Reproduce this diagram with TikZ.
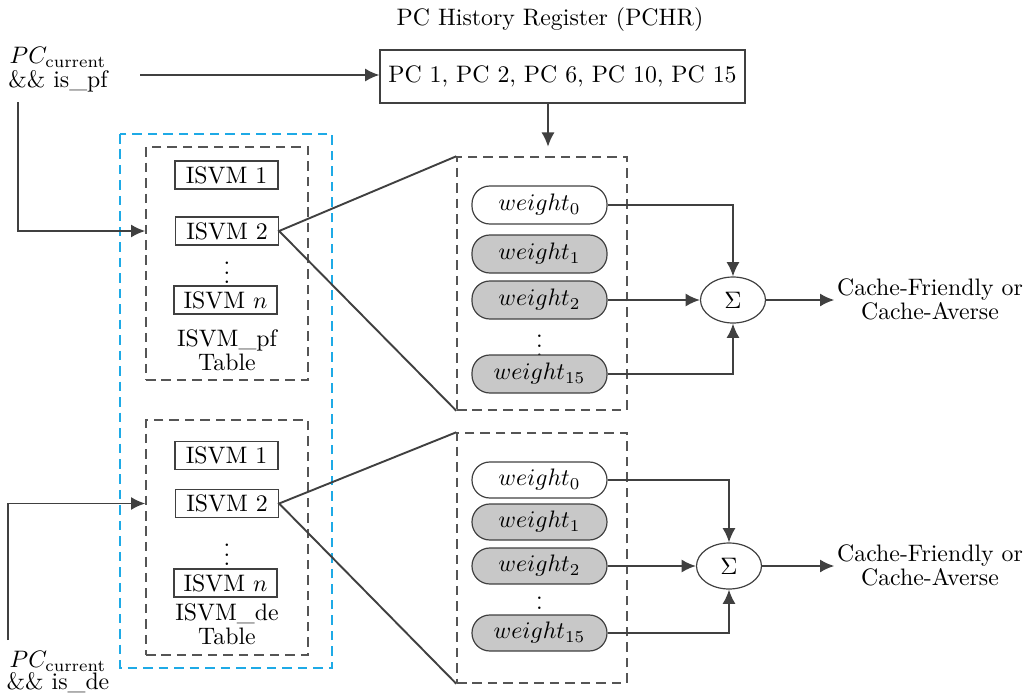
\documentclass[tikz,border=0pt]{standalone}
\usepackage{amsmath}
\usetikzlibrary{arrows.meta,shapes.geometric}
\definecolor{ln}{HTML}{404040}
\definecolor{bx}{HTML}{555555}
\definecolor{cy}{HTML}{1EAAE6}
\definecolor{pill}{HTML}{C8C8C8}
\def\u{0.42pt}
\tikzset{
  arr/.style={draw=ln, line width=0.8pt, -{Latex[length=6pt,width=5.5pt]}},
  conn/.style={draw=ln, line width=0.8pt},
  isvm/.style={draw=ln, line width=0.5pt, minimum width=103*\u, minimum height=28*\u, inner sep=1pt},
  wpill/.style={draw=ln, line width=0.5pt, rounded corners=7.5pt, minimum width=135*\u, minimum height=38*\u, inner sep=1pt},
  wpillb/.style={wpill, minimum height=36*\u},
  gpill/.style={fill=pill},
  dbox/.style={draw=bx, line width=0.6pt, dash pattern=on 4pt off 2.5pt},
  sig/.style={draw=ln, line width=0.5pt, ellipse, minimum width=65*\u, minimum height=46*\u, inner sep=0pt},
  lbl/.style={align=center, inner sep=1pt},
  dots/.style={inner sep=0pt},
}
\begin{document}
\begin{tikzpicture}[x=0.42pt,y=-0.42pt]
\useasboundingbox (0,0) rectangle (1027,695);

% title and PCHR
\node[lbl] (title) at (550,20) {PC History Register (PCHR)};
\node[draw=ln, line width=0.5pt, minimum width=365*\u, minimum height=53*\u, inner sep=1pt] (pchr) at (562.5,76.5) {PC 1, PC 2, PC 6, PC 10, PC 15};

% inputs
\node[lbl] (in1) at (58,70) {$PC_{\mathrm{current}}$\\[-2pt]\&\& is\_pf};
\node[lbl] (in2) at (58,672) {$PC_{\mathrm{current}}$\\[-3pt]\&\& is\_de};
\coordinate (in1s) at (140,75);
\coordinate (in1d) at (18,102);
\coordinate (in2u) at (8,640);

% blue box
\draw[draw=cy, line width=0.7pt, dash pattern=on 4pt off 2.5pt] (120,134) rectangle (332,668);

% tables
\node[dbox, minimum width=162*\u, minimum height=233*\u] (tab1) at (227,263.5) {};
\node[dbox, minimum width=162*\u, minimum height=235*\u] (tab2) at (227,537.5) {};

\node[isvm] (i11) at (226.5,175) {ISVM 1};
\node[isvm] (i12) at (227,231) {ISVM 2};
\node[dots] (d1) at (227,266) {$\vdots$};
\node[isvm] (i1n) at (225.5,300) {ISVM $n$};
\node[lbl] (t1) at (227,350) {ISVM\_pf\\[-2pt]Table};

\node[isvm] (i21) at (226.5,455.5) {ISVM 1};
\node[isvm] (i22) at (227,503.5) {ISVM 2};
\node[dots] (d2) at (227,548) {$\vdots$};
\node[isvm] (i2n) at (225.5,583) {ISVM $n$};
\node[lbl] (t2) at (227,624) {ISVM\_de\\[-2pt]Table};

% weight boxes
\node[dbox, minimum width=170*\u, minimum height=253*\u] (wb1) at (542,283.5) {};
\node[dbox, minimum width=170*\u, minimum height=250*\u] (wb2) at (542,558) {};

\node[wpill] (w10) at (539.5,205) {$weight_0$};
\node[wpill, gpill] (w11) at (539.5,254) {$weight_1$};
\node[wpill, gpill] (w12) at (539.5,300) {$weight_2$};
\node[dots] (wd1) at (539.5,339) {$\vdots$};
\node[wpill, gpill] (w1f) at (539.5,374) {$weight_{15}$};

\node[wpillb] (w20) at (539.5,480) {$weight_0$};
\node[wpillb, gpill] (w21) at (539.5,522) {$weight_1$};
\node[wpillb, gpill] (w22) at (539.5,566) {$weight_2$};
\node[dots] (wd2) at (539.5,601) {$\vdots$};
\node[wpillb, gpill] (w2f) at (539.5,633) {$weight_{15}$};

% sigma
\node[sig] (s1) at (733,300) {$\Sigma$};
\node[sig] (s2) at (729,566) {$\Sigma$};

\node[lbl] (o1) at (930,299) {Cache-Friendly or\\[-2pt]Cache-Averse};
\node[lbl] (o2) at (930,565) {Cache-Friendly or\\[-2pt]Cache-Averse};

% connectors
\draw[arr] (in1s) -- (pchr.west |- in1s);
\draw[arr, shorten >=4pt] (pchr.south -| 548,0) -- (548,0 |- wb1.north);
\draw[arr] (in1d) |- (tab1.west |- i12);
\draw[arr] (in2u) |- (tab2.west |- i22);

\draw[conn] (wb1.north west) -- (i12.east) -- (wb1.south west);
\draw[conn] (wb2.north west) -- (i22.east) -- (wb2.south west);

\draw[arr] (w10.east) -| (s1.north);
\draw[arr] (w12.east) -- (s1.west);
\draw[arr] (w1f.east) -| (s1.south);
\draw[arr] (s1.east) -- (o1.west |- s1);

\draw[arr] (w20.east) -| (s2.north);
\draw[arr] (w22.east) -- (s2.west);
\draw[arr] (w2f.east) -| (s2.south);
\draw[arr] (s2.east) -- (o2.west |- s2);
\end{tikzpicture}
\end{document}
